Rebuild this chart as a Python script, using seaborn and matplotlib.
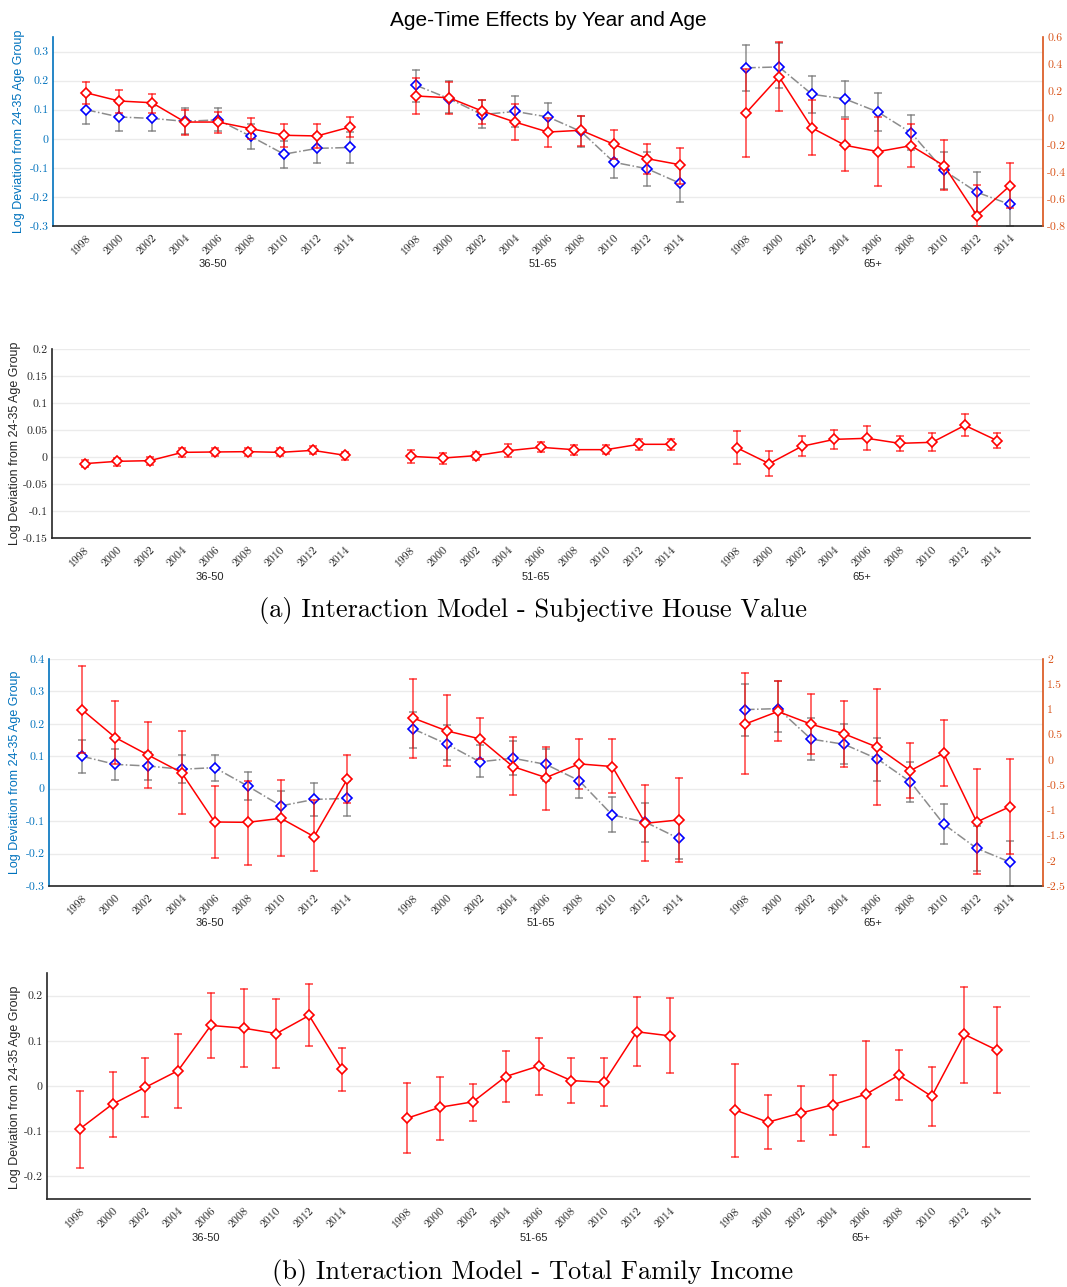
import pandas as pd
import seaborn as sns
import matplotlib.pyplot as plt
from matplotlib.transforms import blended_transform_factory

years = ['1998', '2000', '2002', '2004', '2006', '2008', '2010', '2012', '2014']
groups = ['36-50', '51-65', '65+']

# house price effect (left axis, same in both top panels)
price_mid = [0.100, 0.075, 0.070, 0.060, 0.065, 0.008, -0.053, -0.033, -0.030,
             0.184, 0.138, 0.083, 0.094, 0.075, 0.025, -0.081, -0.103, -0.153,
             0.244, 0.247, 0.153, 0.137, 0.092, 0.021, -0.109, -0.184, -0.226]
price_lo = [0.050, 0.027, 0.028, 0.017, 0.025, -0.035, -0.100, -0.083, -0.083,
            0.126, 0.088, 0.037, 0.042, 0.023, -0.029, -0.134, -0.163, -0.216,
            0.164, 0.175, 0.089, 0.075, 0.025, -0.040, -0.172, -0.253, -0.299]
price_hi = [0.150, 0.122, 0.112, 0.105, 0.105, 0.052, -0.007, 0.018, 0.023,
            0.238, 0.198, 0.134, 0.146, 0.123, 0.080, -0.025, -0.044, -0.094,
            0.322, 0.331, 0.217, 0.199, 0.157, 0.083, -0.047, -0.115, -0.161]

# subjective house value, top panel (right axis)
hv_top_mid = [0.187, 0.126, 0.113, -0.030, -0.030, -0.079, -0.128, -0.133, -0.067,
              0.163, 0.150, 0.052, -0.030, -0.104, -0.091, -0.195, -0.301, -0.346,
              0.037, 0.306, -0.074, -0.202, -0.249, -0.205, -0.353, -0.723, -0.501]
hv_top_lo = [0.101, 0.039, 0.039, -0.126, -0.109, -0.158, -0.212, -0.220, -0.141,
             0.027, 0.027, -0.042, -0.163, -0.215, -0.207, -0.306, -0.417, -0.491,
             -0.286, 0.054, -0.272, -0.395, -0.501, -0.360, -0.533, -0.805, -0.667]
hv_top_hi = [0.269, 0.205, 0.180, 0.061, 0.044, 0.002, -0.047, -0.047, 0.010,
             0.294, 0.267, 0.136, 0.101, 0.002, 0.015, -0.091, -0.190, -0.220,
             0.363, 0.560, 0.133, -0.007, 0.005, -0.044, -0.163, -0.494, -0.336]

# subjective house value, interaction panel
hv_mid = [-0.0123, -0.0080, -0.0068, 0.0086, 0.0093, 0.0099, 0.0086, 0.0123, 0.0030,
          0.0012, -0.0019, 0.0025, 0.0117, 0.0179, 0.0136, 0.0136, 0.0235, 0.0235,
          0.0173, -0.0123, 0.0198, 0.0327, 0.0346, 0.0253, 0.0272, 0.0586, 0.0302]
hv_lo = [-0.0190, -0.0160, -0.0140, 0.0006, 0.0012, 0.0025, 0.0012, 0.0050, -0.0050,
         -0.0110, -0.0123, -0.0056, 0.0000, 0.0086, 0.0043, 0.0050, 0.0136, 0.0136,
         -0.0136, -0.0358, 0.0012, 0.0154, 0.0123, 0.0110, 0.0105, 0.0380, 0.0167]
hv_hi = [-0.0050, -0.0020, -0.0006, 0.0160, 0.0167, 0.0167, 0.0160, 0.0198, 0.0090,
         0.0136, 0.0074, 0.0090, 0.0235, 0.0270, 0.0216, 0.0228, 0.0330, 0.0330,
         0.0480, 0.0105, 0.0380, 0.0500, 0.0568, 0.0389, 0.0438, 0.0790, 0.0438]

# total family income, top panel (right axis)
inc_top_mid = [0.993, 0.443, 0.093, -0.251, -1.231, -1.238, -1.158, -1.522, -0.384,
               0.827, 0.576, 0.417, -0.132, -0.351, -0.079, -0.132, -1.257, -1.191,
               0.708, 0.960, 0.708, 0.516, 0.251, -0.212, 0.132, -1.231, -0.927]
inc_top_lo = [0.132, -0.079, -0.563, -1.072, -1.939, -2.078, -1.900, -2.197, -0.860,
              0.046, -0.119, 0.013, -0.695, -0.993, -0.582, -0.662, -1.999, -2.019,
              -0.285, 0.384, 0.113, -0.132, -0.893, -0.761, -0.510, -2.270, -1.866]
inc_top_hi = [1.853, 1.158, 0.748, 0.563, -0.516, -0.410, -0.397, -0.794, 0.093,
              1.608, 1.277, 0.821, 0.450, 0.265, 0.417, 0.410, -0.503, -0.357,
              1.721, 1.555, 1.304, 1.171, 1.403, 0.331, 0.781, -0.185, 0.013]

# total family income, interaction panel
inc_mid = [-0.095, -0.040, -0.003, 0.034, 0.134, 0.128, 0.116, 0.156, 0.038,
           -0.071, -0.047, -0.035, 0.021, 0.044, 0.012, 0.008, 0.120, 0.111,
           -0.053, -0.080, -0.060, -0.041, -0.018, 0.024, -0.023, 0.114, 0.079]
inc_lo = [-0.182, -0.112, -0.069, -0.049, 0.061, 0.043, 0.039, 0.088, -0.010,
          -0.148, -0.119, -0.077, -0.035, -0.019, -0.038, -0.045, 0.045, 0.029,
          -0.156, -0.139, -0.121, -0.108, -0.134, -0.030, -0.088, 0.007, -0.015]
inc_hi = [-0.010, 0.032, 0.063, 0.116, 0.206, 0.214, 0.193, 0.225, 0.085,
          0.007, 0.021, 0.004, 0.077, 0.106, 0.061, 0.061, 0.196, 0.194,
          0.048, -0.021, 0.000, 0.025, 0.100, 0.080, 0.042, 0.219, 0.174]

# tick labels
left_ticks_a = ['-0.3', '-0.2', '-0.1', '0', '0.1', '0.2', '0.3']
right_ticks_a = ['-0.8', '-0.6', '-0.4', '-0.2', '0', '0.2', '0.4', '0.6']
ticks_hv = ['-0.15', '-0.1', '-0.05', '0', '0.05', '0.1', '0.15', '0.2']
left_ticks_b = ['-0.3', '-0.2', '-0.1', '0', '0.1', '0.2', '0.3', '0.4']
right_ticks_b = ['-2.5', '-2', '-1.5', '-1', '-0.5', '0', '0.5', '1', '1.5', '2']
ticks_inc = ['-0.2', '-0.1', '0', '0.1', '0.2']

W, H = 1067, 1287
BLUE_AX = '#0072BD'
ORANGE_AX = '#D95319'
DARK = '#262626'
SERIF = 'cmr10'

sns.set_style('white')
plt.rcParams['font.family'] = ['Liberation Sans', 'DejaVu Sans']
plt.rcParams['axes.unicode_minus'] = False

fig = plt.figure(figsize=(W / 100, H / 100), dpi=100)


def rect(l, t, r, b):
    return [l / W, 1 - b / H, (r - l) / W, (b - t) / H]


def long_df(mid, lo, hi):
    rows = []
    for k, (m, l, h) in enumerate(zip(mid, lo, hi)):
        g, i = divmod(k, 9)
        for v in (l, m, h):
            rows.append({'x': 10 * g + i + 1, 'group': groups[g], 'y': v})
    return pd.DataFrame(rows)


def draw(ax, mid, lo, hi, line, edge, ls, ecolor):
    df = long_df(mid, lo, hi)
    sns.lineplot(data=df, x='x', y='y', hue='group',
                 palette={g: line for g in groups},
                 estimator='median', errorbar=lambda v: (v.min(), v.max()),
                 err_style='bars',
                 err_kws=dict(capsize=3, elinewidth=1.1, capthick=1.1, ecolor=ecolor),
                 marker='D', markersize=5.5, markerfacecolor='white',
                 markeredgecolor=edge, markeredgewidth=1.2,
                 linestyle=ls, linewidth=1.1, zorder=3, legend=False, ax=ax)
    ax.set_xlabel('')
    ax.set_ylabel('')


def style_x(ax, top_px):
    pos = [10 * g + i + 1 for g in range(3) for i in range(9)]
    ax.set_xlim(0, 30)
    ax.set_xticks(pos)
    ax.set_xticklabels(years * 3, rotation=45, ha='right', rotation_mode='anchor',
                       fontsize=8.5, family=SERIF, color=DARK)
    ax.set_xticks([0, 10, 20, 30], minor=True)
    ax.tick_params(axis='x', which='major', length=0, pad=5)
    ax.tick_params(axis='x', which='minor', direction='in', length=3, color=DARK)
    trans = blended_transform_factory(ax.transData, fig.transFigure)
    for g, name in enumerate(groups):
        ax.text(10 * g + 4.85, 1 - top_px / H, name, transform=trans,
                ha='center', va='center', fontsize=8, color=DARK)


def style_y(ax, lim, ticks, labels, color, grid=True):
    ax.set_ylim(*lim)
    ax.set_yticks(ticks)
    ax.set_yticklabels(labels, fontsize=8.5, family=SERIF, color=color)
    ax.tick_params(axis='y', length=0, pad=3)
    if grid:
        ax.grid(axis='y', color='#EBEBEB', lw=1)
        ax.set_axisbelow(True)


def spines(ax, left=None, right=None):
    for s in ['top', 'right', 'left']:
        ax.spines[s].set_visible(False)
    ax.spines['bottom'].set_color(DARK)
    ax.spines['bottom'].set_linewidth(1.2)
    if left:
        ax.spines['left'].set_visible(True)
        ax.spines['left'].set_color(left)
        ax.spines['left'].set_linewidth(1.2)
    if right:
        ax.spines['right'].set_visible(True)
        ax.spines['right'].set_color(right)
        ax.spines['right'].set_linewidth(1.2)


def to_float(labels):
    return [float(t) for t in labels]


# ---- panel (a) top
ax1 = fig.add_axes(rect(53, 37, 1043, 226))
draw(ax1, price_mid, price_lo, price_hi, '#8C8C8C', '#0000FF', '-.', (0.45, 0.45, 0.45, 0.8))
style_y(ax1, (-0.3, 0.35), to_float(left_ticks_a), left_ticks_a, BLUE_AX)
style_x(ax1, 264)
spines(ax1, left=BLUE_AX)
ax1b = ax1.twinx()
draw(ax1b, hv_top_mid, hv_top_lo, hv_top_hi, '#FF0000', '#FF0000', '-', (1, 0, 0, 0.75))
style_y(ax1b, (-0.8, 0.6), to_float(right_ticks_a), right_ticks_a, ORANGE_AX, grid=False)
spines(ax1b, right=ORANGE_AX)
ax1b.spines['bottom'].set_visible(False)
ax1b.set_xlim(0, 30)

# ---- panel (a) interaction
ax2 = fig.add_axes(rect(52, 349, 1030, 538))
draw(ax2, hv_mid, hv_lo, hv_hi, '#FF0000', '#FF0000', '-', (1, 0, 0, 0.75))
style_y(ax2, (-0.15, 0.2), to_float(ticks_hv), ticks_hv, DARK)
style_x(ax2, 577)
spines(ax2, left=DARK)

# ---- panel (b) top
ax3 = fig.add_axes(rect(49, 659, 1043, 886))
draw(ax3, price_mid, price_lo, price_hi, '#8C8C8C', '#0000FF', '-.', (0.45, 0.45, 0.45, 0.8))
style_y(ax3, (-0.3, 0.4), to_float(left_ticks_b), left_ticks_b, BLUE_AX)
style_x(ax3, 923)
spines(ax3, left=BLUE_AX)
ax3b = ax3.twinx()
draw(ax3b, inc_top_mid, inc_top_lo, inc_top_hi, '#FF0000', '#FF0000', '-', (1, 0, 0, 0.75))
style_y(ax3b, (-2.5, 2.0), to_float(right_ticks_b), right_ticks_b, ORANGE_AX, grid=False)
spines(ax3b, right=ORANGE_AX)
ax3b.spines['bottom'].set_visible(False)
ax3b.set_xlim(0, 30)

# ---- panel (b) interaction
ax4 = fig.add_axes(rect(47, 973, 1030, 1199))
draw(ax4, inc_mid, inc_lo, inc_hi, '#FF0000', '#FF0000', '-', (1, 0, 0, 0.75))
style_y(ax4, (-0.25, 0.25), to_float(ticks_inc), ticks_inc, DARK)
style_x(ax4, 1238)
spines(ax4, left=DARK)

# y labels
ylab = 'Log Deviation from 24-35 Age Group'
for x, y, c in [(19, 131, BLUE_AX), (15, 443, DARK), (15, 772, BLUE_AX), (15, 1087, DARK)]:
    fig.text(x / W, 1 - y / H, ylab, rotation=90, ha='center', va='center',
             fontsize=9, color=c)

fig.text(548 / W, 1 - 20 / H, 'Age-Time Effects by Year and Age',
         ha='center', va='center', fontsize=15, color='black')
fig.text(533 / W, 1 - 610 / H, '(a) Interaction Model - Subjective House Value',
         ha='center', va='center', fontsize=19, family=SERIF, color='black')
fig.text(533 / W, 1 - 1272 / H, '(b) Interaction Model - Total Family Income',
         ha='center', va='center', fontsize=19, family=SERIF, color='black')

fig.savefig('out.png', dpi=100)
